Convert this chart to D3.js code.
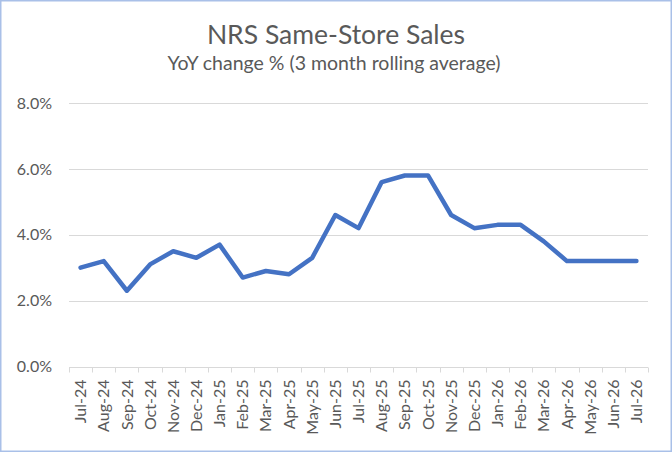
<!DOCTYPE html>
<html><head><meta charset="utf-8">
<script src="https://cdn.jsdelivr.net/npm/d3@7"></script>
<style>body{margin:0;background:#fff}svg{display:block}</style>
</head><body>
<script>
const categories = ["Jul-24","Aug-24","Sep-24","Oct-24","Nov-24","Dec-24","Jan-25","Feb-25","Mar-25","Apr-25","May-25","Jun-25","Jul-25","Aug-25","Sep-25","Oct-25","Nov-25","Dec-25","Jan-26","Feb-26","Mar-26","Apr-26","May-26","Jun-26","Jul-26"];
const values = [3.0,3.2,2.3,3.1,3.5,3.3,3.7,2.7,2.9,2.8,3.3,4.6,4.2,5.6,5.8,5.8,4.6,4.2,4.3,4.3,3.8,3.2,3.2,3.2,3.2];
const yTicks = [0,2,4,6,8];
const title = "NRS Same-Store Sales";
const subtitle = "YoY change % (3 month rolling average)";

const W = 672, H = 452;
const svg = d3.select("body").append("svg").attr("width", W).attr("height", H);
const font = "Lato, 'Open Sans', sans-serif";
svg.append("rect").attr("x",0.75).attr("y",0.75).attr("width",W-1.5).attr("height",H-1.5)
  .attr("fill","#fff").attr("stroke","#A9C0E8").attr("stroke-width",1.5);

const x = d3.scaleBand().domain(categories).range([69,648]);
const y = d3.scaleLinear().domain([0,8]).range([366.5,103]);

svg.append("text").attr("x",336).attr("y",44).attr("text-anchor","middle")
  .attr("font-family",font).attr("font-size",26.5).attr("fill","#595959").text(title);
svg.append("text").attr("x",334).attr("y",70).attr("text-anchor","middle")
  .attr("font-family",font).attr("font-size",19.5).attr("fill","#595959").text(subtitle);

// gridlines
svg.append("g").selectAll("line").data(yTicks.filter(d=>d>0)).join("line")
  .attr("x1",69).attr("x2",648).attr("y1",d=>Math.round(y(d))+0.5).attr("y2",d=>Math.round(y(d))+0.5)
  .attr("stroke","#D9D9D9").attr("stroke-width",1);

// y axis labels
const yAxis = d3.axisLeft(y).tickValues(yTicks).tickSize(0).tickPadding(0)
  .tickFormat(d=>d.toFixed(1)+"%");
const gy = svg.append("g").attr("transform","translate(52,0)").call(yAxis);
gy.select(".domain").remove();
gy.selectAll("text").attr("font-family",font).attr("font-size",16).attr("fill","#595959");

// x axis
const gx = svg.append("g").attr("transform",`translate(0,${Math.round(y(0))+0.5})`)
  .call(d3.axisBottom(x).tickSize(0).tickPadding(0));
gx.select(".domain").attr("stroke","#D9D9D9").attr("d",`M69,0H648`);
gx.selectAll(".tick line").remove();
// tick marks at band edges
const edges = categories.map(c=>x(c)).concat([x(categories[categories.length-1])+x.bandwidth()]);
gx.append("g").selectAll("line").data(edges).join("line")
  .attr("x1",d=>Math.round(d)+0.5).attr("x2",d=>Math.round(d)+0.5).attr("y1",0).attr("y2",5)
  .attr("stroke","#D9D9D9");
gx.selectAll(".tick text").attr("font-family",font).attr("font-size",16).attr("fill","#595959")
  .attr("transform","rotate(-90)").attr("text-anchor","end").attr("x",-12).attr("y",0).attr("dy","0.35em");

// line
const line = d3.line().x((d,i)=>x(categories[i])+x.bandwidth()/2).y(d=>y(d));
svg.append("path").datum(values).attr("d",line).attr("fill","none")
  .attr("stroke","#4472C4").attr("stroke-width",4.5).attr("stroke-linejoin","round").attr("stroke-linecap","round");
</script>
</body></html>
